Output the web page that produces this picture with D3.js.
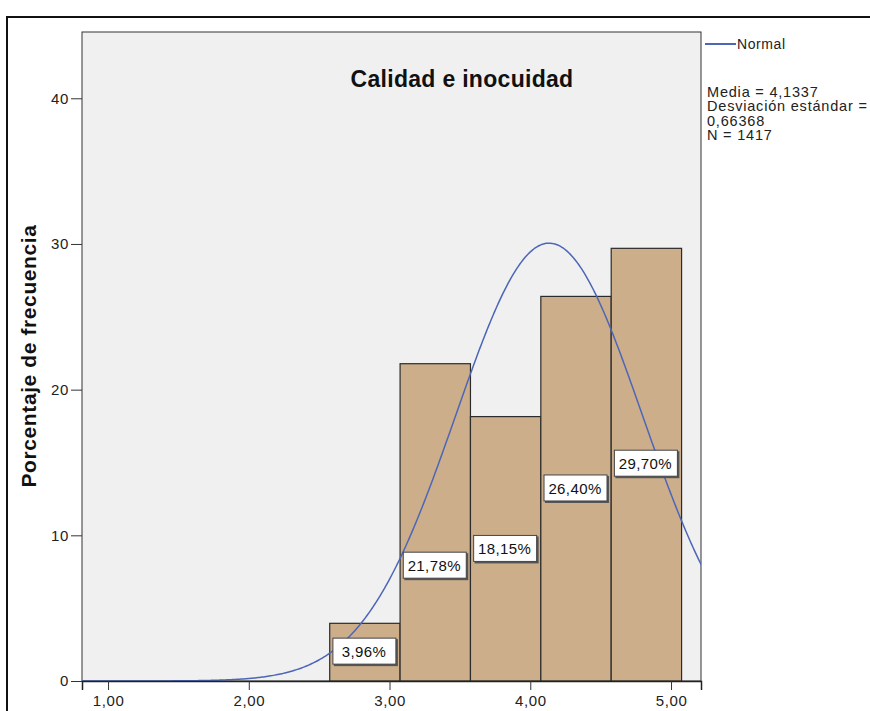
<!DOCTYPE html>
<html>
<head>
<meta charset="utf-8">
<script src="https://cdn.jsdelivr.net/npm/d3@7"></script>
<style>
    body { margin: 0; background: #fff; }
    svg { display: block; font-family: "Liberation Sans", Arial, sans-serif; }
</style>
</head>
<body>
<div class="graph"></div>
<script>
// histogram bins (lower edge) and percentages
const binStarts = [2.575, 3.075, 3.575, 4.075, 4.575];
const binWidth = 0.5;
const percents = [3.96, 21.78, 18.15, 26.40, 29.70];
// where SPSS placed each percentage label (in y units)
const labelAt = [2.05, 7.95, 9.1, 13.25, 14.95];

const xTicks = [1, 2, 3, 4, 5];
const yTicks = [0, 10, 20, 30, 40];

const media = 4.1337;
const desv = 0.66368;
const n = 1417;

const w = 870;
const h = 711;

const plot = { left: 82, right: 701, top: 32, bottom: 681 };

const svg = d3.select(".graph")
    .append("svg")
    .attr("width", w)
    .attr("height", h);

// outer frame
svg.append("rect")
    .attr("x", 7)
    .attr("y", 17)
    .attr("width", w + 20)
    .attr("height", h)
    .attr("fill", "none")
    .attr("stroke", "#111")
    .attr("stroke-width", 2);

const xScale = d3.scaleLinear()
    .domain([0.815, 5.213])
    .range([plot.left, plot.right]);

const yScale = d3.scaleLinear()
    .domain([0, 44.55])
    .range([plot.bottom, plot.top]);

// plot background
svg.append("rect")
    .attr("x", plot.left)
    .attr("y", plot.top)
    .attr("width", plot.right - plot.left)
    .attr("height", plot.bottom - plot.top)
    .attr("fill", "#f0f0f0")
    .attr("stroke", "#333")
    .attr("stroke-width", 1);

svg.append("clipPath")
    .attr("id", "clip")
    .append("rect")
    .attr("x", plot.left)
    .attr("y", plot.top)
    .attr("width", plot.right - plot.left)
    .attr("height", plot.bottom - plot.top);

// bars
svg.selectAll(".bar")
    .data(percents)
    .enter()
    .append("rect")
    .attr("class", "bar")
    .attr("x", (d, i) => xScale(binStarts[i]))
    .attr("y", d => yScale(d))
    .attr("width", (d, i) => xScale(binStarts[i] + binWidth) - xScale(binStarts[i]))
    .attr("height", d => yScale(0) - yScale(d))
    .attr("fill", "#cdae8b")
    .attr("stroke", "#2b2b2b")
    .attr("stroke-width", 1.2);

// normal curve scaled to percent per bin
const density = x => 100 * binWidth / (desv * Math.sqrt(2 * Math.PI)) *
    Math.exp(-0.5 * Math.pow((x - media) / desv, 2));

const curveX = d3.range(xScale.domain()[0], xScale.domain()[1] + 0.01, 0.01);

svg.append("path")
    .datum(curveX)
    .attr("clip-path", "url(#clip)")
    .attr("fill", "none")
    .attr("stroke", "#4c66b8")
    .attr("stroke-width", 1.5)
    .attr("d", d3.line()
        .x(d => xScale(d))
        .y(d => yScale(density(d)))
    );

// percentage labels
const labels = svg.selectAll(".lab")
    .data(percents)
    .enter()
    .append("g")
    .attr("class", "lab")
    .attr("transform", (d, i) =>
        `translate(${xScale(binStarts[i] + binWidth / 2)},${yScale(labelAt[i])})`);

labels.append("rect")
    .attr("x", -31)
    .attr("y", -12)
    .attr("width", 64)
    .attr("height", 27)
    .attr("fill", "#555");

labels.append("rect")
    .attr("x", -32)
    .attr("y", -13)
    .attr("width", 63)
    .attr("height", 26)
    .attr("fill", "#fff")
    .attr("stroke", "#444")
    .attr("stroke-width", 1);

labels.append("text")
    .attr("text-anchor", "middle")
    .attr("x", -1)
    .attr("y", 6)
    .attr("font-size", "15px")
    .attr("letter-spacing", "0.4px")
    .attr("fill", "#111")
    .text(d => d.toFixed(2).replace(".", ",") + "%");

// axes
const xAxis = d3.axisBottom(xScale)
    .tickValues(xTicks)
    .tickSize(9)
    .tickFormat(d => d.toFixed(2).replace(".", ","));

const yAxis = d3.axisLeft(yScale)
    .tickValues(yTicks)
    .tickSize(11)
    .tickFormat(d => d);

svg.append("g")
    .attr("transform", `translate(0,${plot.bottom})`)
    .call(xAxis)
    .call(g => g.select(".domain").attr("stroke", "#222").attr("stroke-width", 1.5))
    .call(g => g.selectAll("line").attr("stroke", "#333"))
    .selectAll("text")
    .attr("font-size", "15px")
    .attr("letter-spacing", "0.6px")
    .attr("fill", "#222")
    .attr("font-family", "Liberation Sans, Arial, sans-serif")
    .attr("dy", "0.85em");

svg.append("g")
    .attr("transform", `translate(${plot.left},0)`)
    .call(yAxis)
    .call(g => g.select(".domain").remove())
    .call(g => g.selectAll("line").attr("stroke", "#333"))
    .selectAll("text")
    .attr("font-size", "15px")
    .attr("letter-spacing", "0.6px")
    .attr("fill", "#222")
    .attr("font-family", "Liberation Sans, Arial, sans-serif")
    .attr("x", -13);

// titles
svg.append("text")
    .text("Calidad e inocuidad")
    .attr("x", 462)
    .attr("y", 87)
    .attr("text-anchor", "middle")
    .attr("font-size", "23px")
    .attr("letter-spacing", "0.3px")
    .attr("font-weight", "bold")
    .attr("fill", "#111");

svg.append("text")
    .text("Porcentaje de frecuencia")
    .attr("text-anchor", "middle")
    .attr("font-size", "21px")
    .attr("letter-spacing", "0.6px")
    .attr("font-weight", "bold")
    .attr("fill", "#111")
    .attr("transform", `translate(36,${356}) rotate(-90)`);

// legend
svg.append("line")
    .attr("x1", 705)
    .attr("x2", 736)
    .attr("y1", 44)
    .attr("y2", 44)
    .attr("stroke", "#4c66b8")
    .attr("stroke-width", 2);

svg.append("text")
    .text("Normal")
    .attr("x", 737)
    .attr("y", 49)
    .attr("font-size", "14px")
    .attr("letter-spacing", "0.6px")
    .attr("fill", "#222");

const stats = [
    "Media = " + String(media).replace(".", ","),
    "Desviación estándar =",
    String(desv).replace(".", ","),
    "N = " + n
];

svg.selectAll(".stat")
    .data(stats)
    .enter()
    .append("text")
    .attr("class", "stat")
    .attr("x", 707)
    .attr("y", (d, i) => 97 + i * 14.3)
    .attr("font-size", "14.5px")
    .attr("letter-spacing", "0.8px")
    .attr("fill", "#222")
    .text(d => d);
</script>
</body>
</html>
